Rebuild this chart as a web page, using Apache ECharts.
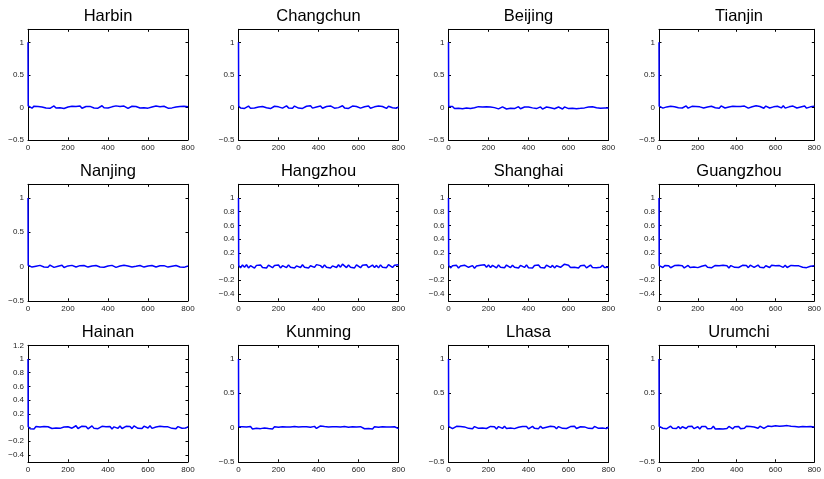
<!DOCTYPE html>
<html><head><meta charset="utf-8">
<script src="https://cdn.jsdelivr.net/npm/echarts@6/dist/echarts.min.js"></script>
<style>html,body{margin:0;padding:0;background:#fff}#c{width:824px;height:479px}</style>
</head><body><div id="c"></div>
<script>
const cities = ['Harbin','Changchun','Beijing','Tianjin','Nanjing','Hangzhou','Shanghai','Guangzhou','Hainan','Kunming','Lhasa','Urumchi'];
const lags = [0,1,
 10,20,30,40,50,60,70,80,90,100,
 110,120,130,140,150,160,170,180,190,200,
 210,220,230,240,250,260,270,280,290,300,
 310,320,330,340,350,360,370,380,390,400,
 410,420,430,440,450,460,470,480,490,500,
 510,520,530,540,550,560,570,580,590,600,
 610,620,630,640,650,660,670,680,690,700,
 710,720,730,740,750,760,770,780,790,800];
const xTicks = [0,200,400,600,800];
const yTicksA = [-0.5,0,0.5,1];
const yTicksB = [-0.4,-0.2,0,0.2,0.4,0.6,0.8,1];
const yTicksC = [-0.4,-0.2,0,0.2,0.4,0.6,0.8,1,1.2];

const harbin = [1,0.022,
 0.012,-0.014,0.018,-0.008,0.013,-0.016,0.006,0.019,-0.010,0.014,
 -0.015,0.008,0.021,-0.011,0.010,-0.006,0.016,-0.018,0.012,0.004,
 -0.013,0.017,-0.007,0.014,-0.010,0.021,-0.015,0.008,0.012,-0.017,
 0.014,0.005,-0.010,0.019,-0.013,0.010,0.024,-0.008,0.014,-0.012,
 0.017,0.007,-0.015,0.022,-0.005,0.012,-0.013,0.019,0.009,-0.016,
 0.008,0.016,-0.009,0.013,0.026,-0.011,0.010,-0.007,0.017,-0.013,
 0.012,0.005,-0.015,0.019,-0.005,0.010,-0.012,0.016,0.007,-0.013,
 0.017,-0.009,0.012,0.005,-0.015,0.013,-0.007,0.017,-0.011,0.010];
const changchun = [1,0.020,
 -0.012,0.016,-0.017,0.010,0.019,-0.013,0.007,-0.010,0.017,0.005,
 -0.015,0.012,0.021,-0.007,0.013,-0.019,0.009,0.016,-0.012,0.007,
 0.017,-0.013,0.005,0.023,-0.009,0.012,-0.015,0.019,0.007,-0.012,
 0.013,-0.017,0.009,0.016,-0.007,0.025,-0.013,0.011,0.005,-0.010,
 0.019,-0.015,0.009,0.013,-0.011,0.021,0.007,-0.013,0.017,-0.005,
 0.011,0.023,-0.009,0.015,-0.017,0.007,0.019,-0.011,0.013,0.005,
 -0.013,0.017,0.009,-0.007,0.021,-0.015,0.011,0.007,-0.009,0.019,
 -0.011,0.013,0.005,-0.017,0.015,0.009,-0.007,0.017,-0.013,0.007];
const beijing = [1,0.014,
 -0.010,0.012,-0.020,0.006,-0.014,0.010,-0.022,0.004,-0.012,0.014,
 -0.018,0.008,-0.007,-0.020,0.010,-0.014,0.004,-0.022,0.008,-0.016,
 0.006,-0.018,-0.005,0.010,-0.024,-0.009,0.006,-0.016,-0.026,0.004,
 -0.014,0.008,-0.020,-0.007,0.010,-0.022,-0.011,0.004,-0.018,0.006,
 -0.024,-0.009,0.008,-0.020,-0.013,0.006,-0.028,-0.011,0.004,-0.018,
 -0.007,0.010,-0.022,-0.013,0.004,-0.016,-0.026,0.006,-0.011,-0.020,
 0.008,-0.013,-0.005,-0.022,0.006,-0.016,0.010,-0.009,-0.020,0.004,
 -0.013,0.008,-0.018,-0.007,0.010,-0.016,0.004,-0.011,0.012,-0.009];
const tianjin = [1,0.018,
 0.012,-0.013,0.017,0.006,-0.010,0.015,-0.015,0.009,0.019,-0.007,
 0.013,-0.011,0.005,0.021,-0.013,0.009,0.015,-0.009,0.011,-0.017,
 0.007,0.019,-0.011,0.013,0.005,-0.015,0.017,0.009,-0.007,0.013,
 -0.013,0.021,0.007,-0.011,0.015,0.005,-0.009,0.017,-0.013,0.011,
 0.034,0.013,-0.009,0.019,0.007,-0.013,0.015,0.009,-0.011,0.023,
 -0.007,0.013,0.005,-0.015,0.019,0.009,-0.011,0.015,0.007,-0.013,
 0.017,0.005,-0.009,0.025,-0.013,0.011,0.007,-0.015,0.019,0.009,
 -0.011,0.015,0.005,-0.009,0.021,-0.013,0.011,0.007,-0.007,0.017];
const nanjing = [1,0.018,
 0.014,-0.008,0.019,0.005,-0.012,0.017,0.009,-0.006,0.015,-0.010,
 0.021,0.007,-0.012,0.013,0.004,-0.008,0.019,-0.014,0.011,0.009,
 -0.010,0.017,0.007,-0.006,0.023,0.013,-0.010,0.015,0.004,-0.008,
 0.019,0.009,-0.012,0.015,0.004,-0.006,0.021,-0.010,0.013,0.007,
 -0.008,0.017,0.011,-0.012,0.015,0.007,-0.004,0.019,-0.010,0.009,
 0.013,-0.006,0.017,0.004,-0.012,0.015,0.009,-0.008,0.019,0.007,
 -0.010,0.015,0.004,-0.006,0.017,0.011,-0.012,0.013,0.007,-0.008,
 0.019,0.004,-0.010,0.015,0.009,-0.006,0.017,-0.012,0.011,0.007];
const hangzhou = [1,0.016,
 -0.018,0.022,-0.011,0.026,-0.020,0.013,0.007,-0.022,0.017,-0.009,
 0.024,-0.015,0.011,-0.022,0.020,0.004,-0.017,0.015,-0.009,0.022,
 -0.020,0.013,0.007,-0.015,0.024,-0.011,0.017,-0.022,0.009,0.020,
 -0.013,0.026,-0.009,0.015,-0.020,0.011,0.022,-0.013,0.028,0.040,
 0.013,-0.017,0.024,-0.011,0.017,-0.022,0.009,0.020,-0.013,0.026,
 -0.009,0.036,0.017,-0.015,0.022,-0.011,0.013,-0.020,0.024,0.007,
 -0.017,0.020,-0.009,0.026,-0.015,0.011,0.022,-0.013,0.017,-0.020,
 0.024,-0.011,0.015,-0.017,0.028,0.032,-0.013,0.020,-0.009,0.026];
const shanghai = [1,0.018,
 -0.020,0.011,-0.013,0.017,-0.022,0.009,-0.015,0.020,0.034,-0.011,
 -0.017,0.013,-0.024,0.009,-0.013,0.020,0.032,0.026,-0.009,0.022,
 -0.013,0.017,0.011,-0.020,0.024,-0.009,0.015,-0.017,0.022,0.009,
 -0.015,0.020,-0.011,0.013,-0.022,0.017,0.007,-0.013,0.024,-0.017,
 0.011,-0.020,0.015,-0.009,0.022,-0.015,0.013,-0.022,0.020,0.007,
 -0.013,0.017,-0.020,0.011,0.024,-0.011,0.015,0.034,0.042,0.020,
 -0.015,0.013,-0.009,0.020,-0.022,0.011,-0.013,0.017,-0.020,0.009,
 0.022,-0.013,0.015,-0.017,0.011,-0.011,0.020,-0.015,0.013,-0.009];
const guangzhou = [1,0.014,
 0.010,-0.014,0.016,-0.007,0.012,-0.018,0.007,0.014,-0.012,0.018,
 -0.010,0.012,-0.020,0.007,0.016,-0.014,0.010,-0.007,0.018,-0.016,
 0.012,0.005,-0.014,0.020,-0.010,0.014,-0.018,0.007,0.016,-0.012,
 0.010,-0.016,0.018,-0.007,0.012,-0.020,0.014,0.005,-0.012,0.016,
 -0.014,0.010,0.018,-0.010,0.014,-0.016,0.020,0.007,-0.012,0.014,
 0.022,-0.010,0.016,-0.018,0.012,0.007,-0.014,0.018,-0.010,0.012,
 -0.016,0.014,0.005,-0.012,0.018,-0.014,0.010,0.016,-0.007,0.012,
 -0.014,0.010,0.014,-0.010,0.007,-0.016,0.012,0.005,-0.012,0.010];
const hainan = [1,0.016,
 -0.016,0.010,-0.020,0.014,-0.012,0.007,-0.018,0.016,-0.010,0.012,
 0.018,-0.014,0.010,-0.007,0.020,-0.012,0.014,0.007,-0.016,0.012,
 0.022,-0.010,0.016,0.026,-0.014,0.012,0.020,-0.007,0.014,-0.018,
 0.010,0.024,-0.012,0.014,-0.016,0.007,0.018,-0.010,0.012,-0.014,
 0.016,-0.020,0.010,0.014,-0.012,0.022,-0.014,0.012,0.018,-0.010,
 0.014,-0.016,0.024,0.007,-0.012,0.016,-0.014,0.020,0.010,-0.007,
 0.026,-0.012,0.014,0.007,-0.016,0.018,-0.010,0.012,-0.014,0.010,
 0.016,-0.012,0.007,-0.016,0.014,0.020,-0.010,0.012,-0.007,0.014];
const kunming = [1,0.012,
 -0.014,0.011,-0.018,0.007,-0.010,0.015,-0.020,0.005,-0.012,0.013,
 -0.016,0.009,-0.007,0.017,-0.014,0.007,-0.020,0.011,-0.010,0.005,
 -0.018,0.013,-0.012,0.007,-0.016,0.009,-0.005,0.015,-0.014,0.007,
 -0.020,0.011,-0.010,0.013,-0.016,0.005,-0.012,0.017,-0.014,0.009,
 0.024,0.048,0.016,-0.012,0.009,-0.016,0.013,-0.007,0.011,-0.018,
 0.007,-0.014,0.015,-0.010,0.005,-0.020,0.011,-0.012,0.009,-0.016,
 0.013,-0.007,-0.018,0.009,-0.014,0.007,-0.022,0.011,-0.010,0.005,
 -0.016,0.013,-0.012,0.007,-0.018,0.009,-0.014,0.011,-0.007,-0.016];
const lhasa = [1,0.018,
 0.012,-0.016,0.007,0.018,-0.010,0.014,-0.014,0.009,0.020,-0.012,
 0.005,-0.018,0.014,0.009,-0.012,0.016,-0.007,0.022,-0.014,0.007,
 0.016,-0.010,0.012,-0.020,0.014,0.007,-0.012,0.018,-0.014,0.009,
 -0.007,0.020,-0.016,0.012,0.005,-0.014,0.016,-0.010,0.014,-0.018,
 0.009,0.018,-0.012,0.007,-0.016,0.020,-0.010,0.014,0.005,-0.014,
 0.018,-0.007,0.012,-0.018,0.014,0.009,-0.012,0.016,-0.014,0.007,
 0.014,-0.010,0.020,-0.014,0.007,0.012,-0.016,0.009,0.018,-0.012,
 0.007,-0.014,0.016,0.009,-0.012,0.014,-0.007,0.018,-0.016,0.009];
const urumchi = [1,0.017,
 0.018,-0.010,0.014,-0.016,0.007,0.020,-0.012,0.009,-0.014,0.016,
 -0.018,0.012,0.005,-0.014,0.016,-0.010,0.020,-0.016,0.007,0.012,
 -0.020,0.014,-0.010,0.016,-0.018,0.009,-0.014,0.018,-0.022,0.007,
 -0.016,0.012,-0.020,0.009,-0.014,0.016,0.005,-0.018,0.012,-0.010,
 0.014,-0.016,0.009,-0.012,0.018,-0.007,0.014,-0.014,0.009,0.016,
 -0.010,0.020,0.007,-0.012,0.016,0.022,-0.007,0.014,0.018,0.026,
 0.012,0.020,-0.009,0.024,0.014,0.028,0.009,0.018,-0.007,0.016,
 0.022,0.009,-0.014,0.016,-0.010,0.012,-0.016,0.014,-0.012,0.009];

const seriesValues = [harbin,changchun,beijing,tianjin,nanjing,hangzhou,shanghai,guangzhou,hainan,kunming,lhasa,urumchi];
const yTickSets = [yTicksA,yTicksA,yTicksA,yTicksA,yTicksA,yTicksB,yTicksB,yTicksB,yTicksC,yTicksA,yTicksA,yTicksA];

const colLeft = [28, 238.5, 448.5, 659];
const rowTop = [29.3, 184.3, 345.3];
const rowH = [110.5, 116.5, 116.5];
const plotW = 160;
const FONT = '"Liberation Sans", Arial, Helvetica, sans-serif';

function fmt(v){
  const s = (Math.round(v*10)/10).toString();
  return s.replace('-', '\u2212');
}

const grids = [], xAxes = [], yAxes = [], series = [], graphics = [];
const black = {color:'#000', width:1};
cities.forEach((name, i) => {
  const r = Math.floor(i/4), c = i%4;
  grids.push({left: colLeft[c], top: rowTop[r], width: plotW, height: rowH[r], containLabel:false});
  const xBase = {gridIndex:i, type:'value', min:0, max:800, interval:200,
    axisLine:{show:true, onZero:false, lineStyle:black},
    axisTick:{show:true, inside:true, length:2.5, lineStyle:black, customValues:xTicks},
    splitLine:{show:false}};
  xAxes.push(Object.assign({}, xBase, {position:'bottom',
    axisLabel:{show:true, fontSize:8, color:'#222', margin:4, fontFamily:FONT, customValues:xTicks}}));
  xAxes.push(Object.assign({}, xBase, {position:'top', axisLabel:{show:false}}));
  const ticks = yTickSets[i];
  const yBase = {gridIndex:i, type:'value', min:-0.5, max:1.2,
    axisLine:{show:true, onZero:false, lineStyle:black},
    axisTick:{show:true, inside:true, length:2.5, lineStyle:black, customValues:ticks},
    splitLine:{show:false}};
  yAxes.push(Object.assign({}, yBase, {position:'left',
    axisLabel:{show:true, fontSize:8, color:'#222', margin:4, fontFamily:FONT, customValues:ticks, formatter:fmt}}));
  yAxes.push(Object.assign({}, yBase, {position:'right', axisLabel:{show:false}}));
  series.push({type:'line', xAxisIndex:2*i, yAxisIndex:2*i,
    data: lags.map((x,k)=>[x, seriesValues[i][k]]),
    showSymbol:false, symbol:'none', silent:true, clip:true,
    lineStyle:{color:'#0000ff', width:1.5}, z:3});
  graphics.push({type:'text', x: colLeft[c] + plotW/2, y: rowTop[r] - 4,
    style:{text:name, fill:'#000', font:'16.5px ' + FONT, align:'center', verticalAlign:'bottom',
      textAlign:'center', textVerticalAlign:'bottom'}});
});

const chart = echarts.init(document.getElementById('c'), null, {renderer:'canvas'});
chart.setOption({
  animation:false,
  backgroundColor:'#fff',
  grid: grids, xAxis: xAxes, yAxis: yAxes, series: series, graphic: graphics
});
</script></body></html>
